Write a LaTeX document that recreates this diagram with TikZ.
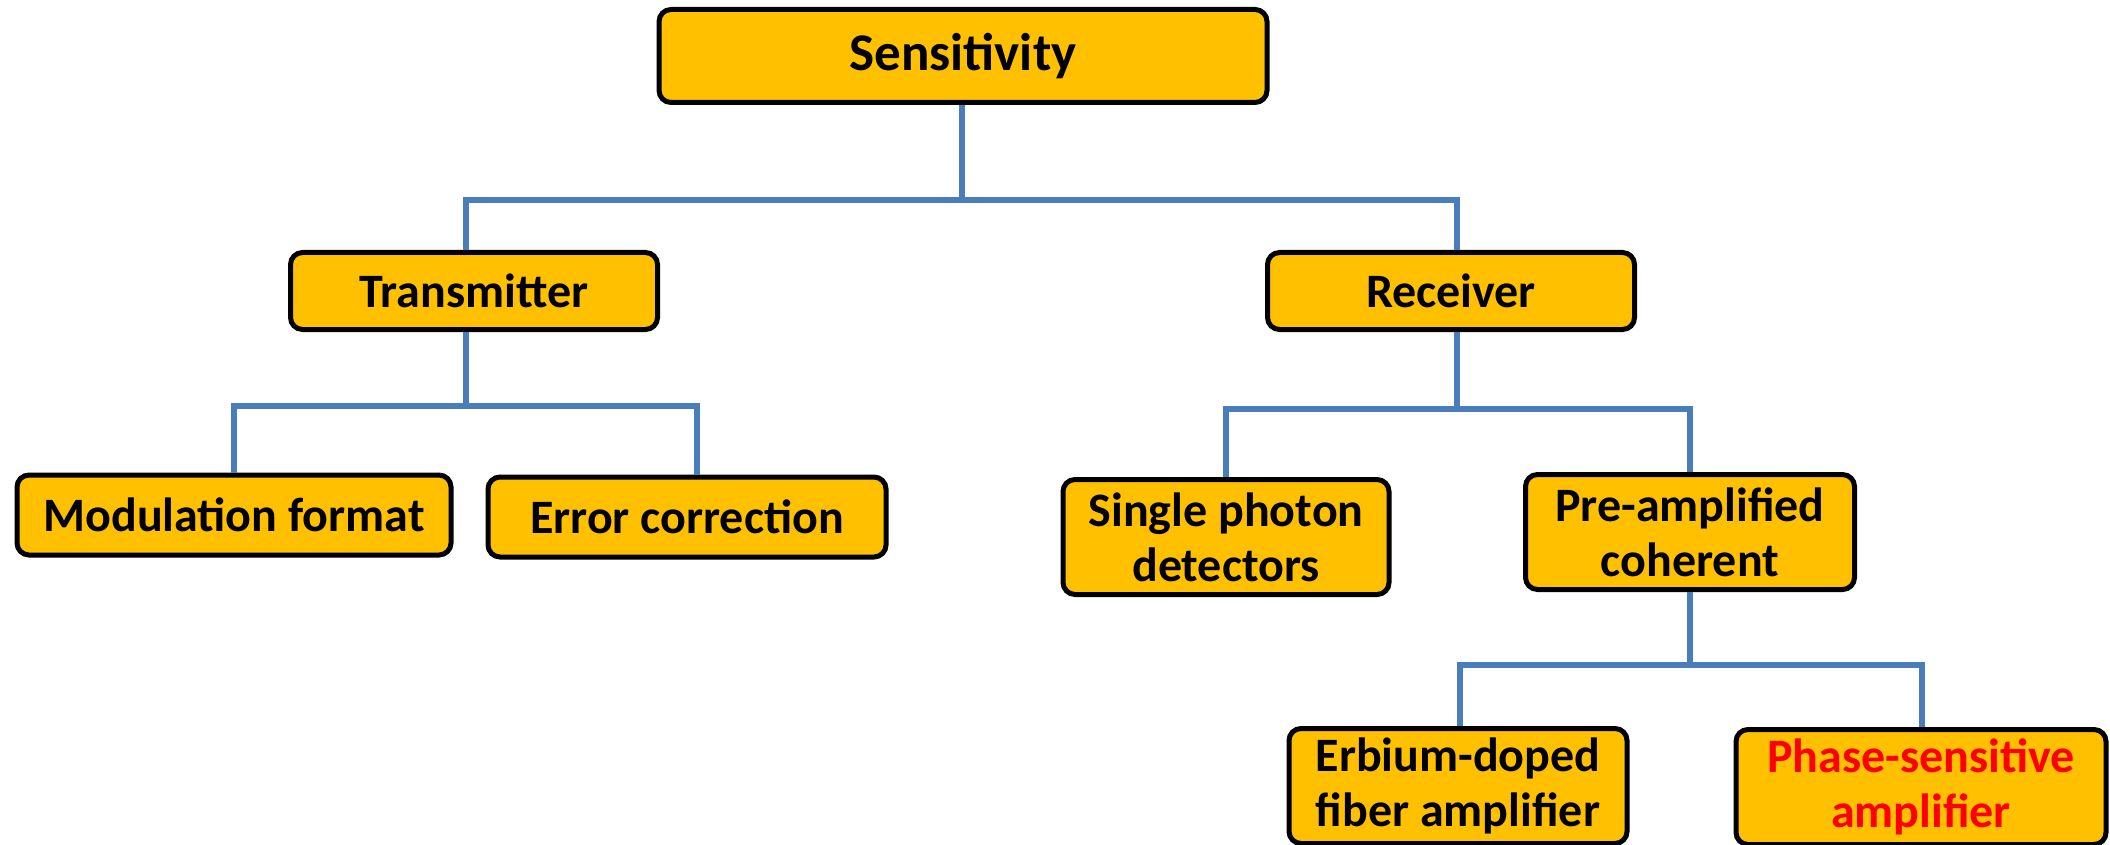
\documentclass[tikz,border=0pt]{standalone}
\usepackage{fontspec}
\setmainfont{Carlito}
\definecolor{boxfill}{HTML}{FFC000}
\definecolor{linkblue}{HTML}{4A7EBB}
\definecolor{hired}{HTML}{FF0000}
\begin{document}
\begin{tikzpicture}[x=1pt,y=-1pt,
  box/.style={draw=black, line width=5pt, fill=boxfill, rounded corners=12pt,
    align=center, inner sep=0pt, font=\fontsize{48}{55}\selectfont\bfseries},
  link/.style={draw=linkblue, line width=6.5pt}]
\useasboundingbox (0,0) rectangle (2110,845);
\clip (0,0) rectangle (2110,845);
\coordinate (b1) at (962,200);
\coordinate (b2) at (466,406);
\coordinate (b3) at (1457,409);
\coordinate (b4) at (1690,665);
% nodes
\node[box, minimum width=608pt, minimum height=93pt, font=\fontsize{53}{60}\selectfont\bfseries] (sens) at (963,56) {Sensitivity};
\node[box, minimum width=367pt, minimum height=77pt] (trans) at (474,291) {Transmitter};
\node[box, minimum width=367pt, minimum height=77pt] (recv) at (1451,291) {Receiver};
\node[box, minimum width=434pt, minimum height=80pt] (mod) at (234,515) {Modulation format};
\node[box, minimum width=398pt, minimum height=80pt] (err) at (687,517) {Error correction};
\node[box, minimum width=326pt, minimum height=115pt] (single) at (1226,537) {Single photon\\detectors};
\node[box, minimum width=329pt, minimum height=115pt] (pre) at (1690,532) {Pre-amplified\\coherent};
\node[box, minimum width=338pt, minimum height=115pt] (erb) at (1458,786) {Erbium-doped\\fiber amplifier};
\node[box, minimum width=370pt, minimum height=115pt, text=hired] (phase) at (1921,787) {Phase-sensitive\\amplifier};
% links
\draw[link] ([xshift=-1pt]sens.south) -- (b1);
\draw[link] ([xshift=-8pt]trans.north) |- (b1) -| ([xshift=6pt]recv.north);
\draw[link] ([xshift=-8pt]trans.south) -- (b2);
\draw[link] (mod.north) |- (b2) -| ([xshift=10pt]err.north);
\draw[link] ([xshift=6pt]recv.south) -- (b3);
\draw[link] (single.north) |- (b3) -| (pre.north);
\draw[link] (pre.south) -- (b4);
\draw[link] ([xshift=2pt]erb.north) |- (b4) -| ([xshift=1pt]phase.north);
\end{tikzpicture}
\end{document}
